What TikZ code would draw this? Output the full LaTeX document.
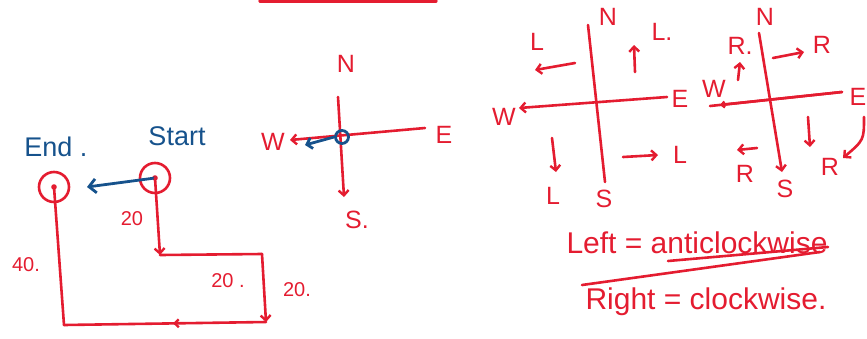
\documentclass[tikz,border=0pt]{standalone}
\usepackage{fontspec}
\setmainfont{Liberation Sans}
\usetikzlibrary{arrows.meta,decorations.markings}
\definecolor{pen}{RGB}{228,28,48}
\definecolor{ink}{RGB}{22,82,140}
\begin{document}
\begin{tikzpicture}[x=1pt,y=-1pt,
  redline/.style={draw=pen, line width=2.6pt, line cap=round, line join=round},
  blueline/.style={draw=ink, line width=2.8pt, line cap=round, line join=round},
  tip/.style={-{Straight Barb[length=5pt,width=10pt,line width=2.4pt]}},
  ring/.style={circle, draw=pen, line width=2.6pt, minimum size=30pt, inner sep=0pt},
  lbl/.style={text=pen, font=\fontsize{25}{25}\selectfont, inner sep=0pt},
  num/.style={text=pen, font=\fontsize{20}{20}\selectfont, inner sep=0pt},
  blbl/.style={text=ink, font=\fontsize{27}{27}\selectfont, inner sep=0pt},
  big/.style={text=pen, font=\fontsize{30}{30}\selectfont, inner sep=0pt},
  midleft/.style={decoration={markings, mark=at position 0.46 with {\arrow{Straight Barb[length=4pt,width=8pt,line width=2.4pt]}}}, postaction=decorate}]
\useasboundingbox (0,0) rectangle (867,338);

% top stroke
\coordinate (ta) at (260,1);
\coordinate (tb) at (436,1);
\draw[redline, line width=3.2pt] (ta) -- (tb);

% ---------- left: route ----------
\node[blbl] (endlbl) at (56,147) {End .};
\node[blbl] (startlbl) at (177,136) {Start};
\node[ring] (endc) at (54,187) {};
\node[ring] (startc) at (155,178) {};
\fill[pen] (endc.center) circle (2.8pt);
\fill[pen] (startc.center) circle (2.8pt);
\coordinate (p1) at (160,255);
\coordinate (p2) at (262,254);
\coordinate (p3) at (266,322);
\coordinate (p4) at (64,325);
\coordinate (bt) at (87,187);
\draw[blueline, -{Straight Barb[length=7pt,width=14pt,line width=2.8pt]}] (startc.center) -- (bt);
\draw[redline, tip] (startc.center) -- (p1);
\draw[redline] (p1) -- (p2);
\draw[redline, tip] (p2) -- (p3);
\draw[redline, midleft] (p3) -- (p4);
\draw[redline] (p4) -- (endc.center);
\node[num] (n20a) at (132,219) {20};
\node[num] (n20b) at (228,281) {20 .};
\node[num] (n20c) at (297,290) {20.};
\node[num] (n40) at (26,265) {40.};

% ---------- middle compass ----------
\node[lbl] (N1) at (346,64) {N};
\node[lbl] (S1) at (357,220) {S.};
\node[lbl] (E1) at (444,135) {E};
\node[lbl] (W1) at (273,142) {W};
\coordinate (c1n) at (338,97);
\coordinate (c1s) at (344,197);
\coordinate (c1w) at (290,140);
\coordinate (c1e) at (425,128);
\draw[redline, tip] (c1n) -- (c1s);
\draw[redline, tip] (c1e) -- (c1w);
\node[circle, draw=ink, line width=2.8pt, minimum size=13pt, inner sep=0pt] (bc) at (342,137) {};
\coordinate (bw) at (305,145);
\draw[blueline, -{Straight Barb[length=5pt,width=11pt,line width=2.8pt]}] (bc.west) -- (bw);

% ---------- right compass 1 (left turns) ----------
\node[lbl] (N2) at (608,17) {N};
\node[lbl] (S2) at (604,199) {S};
\node[lbl] (E2) at (680,99) {E};
\node[lbl] (W2) at (504,117) {W};
\coordinate (c2n) at (588,25);
\coordinate (c2s) at (605,182);
\coordinate (c2w) at (519,108);
\coordinate (c2e) at (667,97);
\draw[redline] (c2n) -- (c2s);
\draw[redline, tip] (c2e) -- (c2w);
\node[lbl] (L1) at (537,42) {L};
\coordinate (a1s) at (575,63); \coordinate (a1e) at (535,70);
\draw[redline, tip] (a1s) -- (a1e);
\node[lbl] (L2) at (662,32) {L.};
\coordinate (a2s) at (635,72); \coordinate (a2e) at (634,45);
\draw[redline, tip] (a2s) -- (a2e);
\node[lbl] (L3) at (553,196) {L};
\coordinate (a3s) at (552,138); \coordinate (a3e) at (556,172);
\draw[redline, tip] (a3s) -- (a3e);
\node[lbl] (L4) at (680,155) {L};
\coordinate (a4s) at (623,157); \coordinate (a4e) at (658,155);
\draw[redline, tip] (a4s) -- (a4e);

% ---------- right compass 2 (right turns) ----------
\node[lbl] (N3) at (765,17) {N};
\node[lbl] (S3) at (785,189) {S};
\node[lbl] (E3) at (858,97) {E};
\node[lbl] (W3) at (714,89) {W};
\coordinate (c3n) at (759,33);
\coordinate (c3s) at (782,172);
\coordinate (c3w) at (710,106);
\coordinate (c3e) at (842,92);
\draw[redline, tip] (c3n) -- (c3s);
\draw[redline] (c3e) -- (c3w);
\coordinate (c3wt) at (720,105);
\draw[redline, -{Straight Barb[length=3pt,width=6pt,line width=2.4pt]}] (c3e) -- (c3wt);
\node[lbl] (R1) at (740,46) {R.};
\coordinate (b1s) at (738,80); \coordinate (b1e) at (740,62);
\draw[redline, tip] (b1s) -- (b1e);
\node[lbl] (R2) at (822,45) {R};
\coordinate (b2s) at (773,58); \coordinate (b2e) at (804,52);
\draw[redline, tip] (b2s) -- (b2e);
\coordinate (b3s) at (808,117); \coordinate (b3e) at (810,147);
\draw[redline, tip] (b3s) -- (b3e);
\node[lbl] (R3) at (830,167) {R};
\coordinate (b4s) at (864,117); \coordinate (b4e) at (843,158);
\draw[redline, tip] (b4s) .. controls (864,140) .. (b4e);
\node[lbl] (R4) at (745,174) {R};
\coordinate (b5s) at (757,148); \coordinate (b5e) at (737,150);
\draw[redline, tip] (b5s) -- (b5e);

% ---------- bottom text ----------
\node[big] (lefteq) at (697,243) {Left = anticlockwise};
\node[big] (righteq) at (706,302) {Right = clockwise.};
\coordinate (u1a) at (582,285); \coordinate (u1b) at (820,252);
\coordinate (u2a) at (668,261); \coordinate (u2b) at (828,247);
\draw[redline] (u1a) -- (u1b);
\draw[redline] (u2a) -- (u2b);
\end{tikzpicture}
\end{document}
